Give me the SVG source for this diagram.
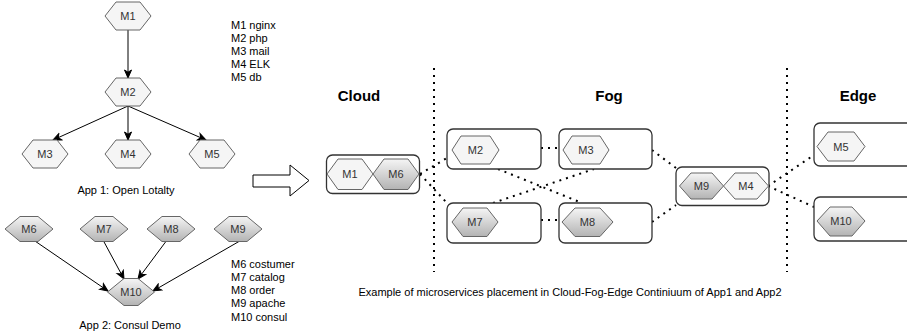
<svg xmlns="http://www.w3.org/2000/svg" width="907" height="332" viewBox="0 0 907 332">
<defs>
<linearGradient id="g" x1="0" y1="0" x2="0" y2="1">
<stop offset="0" stop-color="#f5f5f5"/>
<stop offset="1" stop-color="#b3b3b3"/>
</linearGradient>
<marker id="arr" markerUnits="userSpaceOnUse" markerWidth="10" markerHeight="10" viewBox="0 0 10 10" refX="9" refY="5" orient="auto">
<path d="M1,1.5 L9,5 L1,8.5 L3.2,5 z" fill="#000" stroke="#000" stroke-width="1"/>
</marker>
</defs>
<style>
.hl{fill:#f5f5f5;stroke:#666;stroke-width:1}
.hd{fill:url(#g);stroke:#666;stroke-width:1}
.lb{font-family:"Liberation Sans",Arial,sans-serif;font-size:11px;fill:#333;text-anchor:middle}
.tx{font-family:"Liberation Sans",Arial,sans-serif;font-size:11px;fill:#000}
.cap{font-family:"Liberation Sans",Arial,sans-serif;font-size:11px;fill:#000;text-anchor:middle}
.hd1{font-family:"Liberation Sans",Arial,sans-serif;font-size:15px;font-weight:bold;fill:#000;text-anchor:middle}
.box{fill:#fff;stroke:#333;stroke-width:1.3}
.e{stroke:#000;stroke-width:1;fill:none;marker-end:url(#arr)}
.d{stroke:#000;stroke-width:2;fill:none;stroke-dasharray:2 5}
</style>

<!-- App 1 -->
<g id="app1-edges">
<line class="e" x1="128" y1="30" x2="128" y2="78"/>
<line class="e" x1="128" y1="106" x2="53" y2="140"/>
<line class="e" x1="128" y1="106" x2="128" y2="140"/>
<line class="e" x1="128" y1="106" x2="206" y2="140"/>
</g>
<g id="a1-M1"><polygon class="hl" points="105,16 116,2 140,2 151,16 140,30 116,30"/><text class="lb" x="128" y="20">M1</text></g>
<g id="a1-M2"><polygon class="hl" points="105,92 116,78 140,78 151,92 140,106 116,106"/><text class="lb" x="128" y="96">M2</text></g>
<g id="a1-M3"><polygon class="hl" points="22,154 33,140 57,140 68,154 57,168 33,168"/><text class="lb" x="45" y="158">M3</text></g>
<g id="a1-M4"><polygon class="hl" points="105,154 116,140 140,140 151,154 140,168 116,168"/><text class="lb" x="128" y="158">M4</text></g>
<g id="a1-M5"><polygon class="hl" points="189,154 200,140 224,140 235,154 224,168 200,168"/><text class="lb" x="212" y="158">M5</text></g>
<g id="legend1">
<text class="tx" x="231" y="29">M1 nginx</text>
<text class="tx" x="231" y="42">M2 php</text>
<text class="tx" x="231" y="55">M3 mail</text>
<text class="tx" x="231" y="68">M4 ELK</text>
<text class="tx" x="231" y="81">M5 db</text>
</g>
<text class="cap" x="126" y="194">App 1: Open Lotalty</text>

<!-- App 2 -->
<g id="app2-edges">
<line class="e" x1="32" y1="239" x2="108" y2="291"/>
<line class="e" x1="103" y1="240" x2="124" y2="279"/>
<line class="e" x1="167" y1="240" x2="138" y2="279"/>
<line class="e" x1="245" y1="238" x2="153" y2="291"/>
</g>
<g id="a2-M6"><polygon class="hd" points="5,229 20,216.5 38,216.5 53,229 38,241.5 20,241.5"/><text class="lb" x="29" y="233">M6</text></g>
<g id="a2-M7"><polygon class="hd" points="80,229 95,216.5 113,216.5 128,229 113,241.5 95,241.5"/><text class="lb" x="104" y="233">M7</text></g>
<g id="a2-M8"><polygon class="hd" points="147,229 162,216.5 180,216.5 195,229 180,241.5 162,241.5"/><text class="lb" x="171" y="233">M8</text></g>
<g id="a2-M9"><polygon class="hd" points="214,229 229,216.5 247,216.5 262,229 247,241.5 229,241.5"/><text class="lb" x="238" y="233">M9</text></g>
<g id="a2-M10"><polygon class="hd" points="107.5,292 124,278.5 138,278.5 154.5,292 138,305.5 124,305.5"/><text class="lb" x="131" y="296">M10</text></g>
<g id="legend2">
<text class="tx" x="231" y="268">M6 costumer</text>
<text class="tx" x="231" y="281">M7 catalog</text>
<text class="tx" x="231" y="294">M8 order</text>
<text class="tx" x="231" y="307">M9 apache</text>
<text class="tx" x="231" y="321">M10 consul</text>
</g>
<text class="cap" x="130" y="329">App 2: Consul Demo</text>

<!-- Hollow arrow -->
<polygon id="big-arrow" points="253,175 290,175 290,165 309,180.5 290,196 290,187 253,187" fill="#fff" stroke="#000" stroke-width="1"/>

<!-- Placement -->
<text class="hd1" x="359" y="101">Cloud</text>
<text class="hd1" x="609" y="101">Fog</text>
<text class="hd1" x="858" y="101">Edge</text>
<line class="d" x1="434" y1="68" x2="434" y2="272" stroke-width="1.8" stroke-dasharray="1.8 4.8"/>
<line class="d" x1="787" y1="68" x2="787" y2="272" stroke-width="1.8" stroke-dasharray="1.8 4.8"/>

<g id="connectors">
<line class="d" x1="420" y1="174" x2="447" y2="158"/>
<line class="d" x1="420" y1="174" x2="447" y2="203"/>
<line class="d" x1="541" y1="148" x2="562" y2="148"/>
<line class="d" x1="541" y1="220" x2="562" y2="220"/>
<line class="d" x1="498" y1="169" x2="582" y2="203"/>
<line class="d" x1="493" y1="203" x2="594" y2="169"/>
<line class="d" x1="652" y1="150" x2="676" y2="168"/>
<line class="d" x1="652" y1="222" x2="676" y2="205"/>
<line class="d" x1="768" y1="186" x2="814" y2="155"/>
<line class="d" x1="768" y1="186" x2="814" y2="207"/>
</g>

<g id="cloud-node">
<rect class="box" x="326.5" y="155" width="93" height="38.5" rx="6"/>
<polygon class="hl" points="327,174 338,159 362,159 373,174 362,189.5 338,189.5"/>
<text class="lb" x="350" y="178">M1</text>
<polygon class="hd" points="373,174 384,159 408,159 419,174 408,189.5 384,189.5"/>
<text class="lb" x="396" y="178">M6</text>
</g>
<g id="fog-M2">
<rect class="box" x="447" y="129" width="94" height="40" rx="6"/>
<polygon class="hl" points="452,150 461,136 490,136 499,150 490,164 461,164"/>
<text class="lb" x="475.5" y="154">M2</text>
</g>
<g id="fog-M3">
<rect class="box" x="559" y="129" width="93" height="40" rx="6"/>
<polygon class="hl" points="563,150 572,136 600,136 609,150 600,164 572,164"/>
<text class="lb" x="586" y="154">M3</text>
</g>
<g id="fog-M7">
<rect class="box" x="447" y="203" width="94" height="40" rx="6"/>
<polygon class="hd" points="452,222 463,208 487,208 498,222 487,236.5 463,236.5"/>
<text class="lb" x="475" y="226">M7</text>
</g>
<g id="fog-M8">
<rect class="box" x="559" y="203" width="93" height="40" rx="6"/>
<polygon class="hd" points="562,222 575,208 600,208 613,222 600,236.5 575,236.5"/>
<text class="lb" x="587.5" y="226">M8</text>
</g>
<g id="fog-M9-M4">
<rect class="box" x="676" y="167" width="93" height="38.5" rx="6"/>
<polygon class="hd" points="679.5,186 691,173 712,173 723.5,186 712,199 691,199"/>
<text class="lb" x="701.5" y="190">M9</text>
<polygon class="hl" points="723.5,186 735,173 757,173 768.5,186 757,199 735,199"/>
<text class="lb" x="746" y="190">M4</text>
</g>
<g id="edge-M5">
<rect class="box" x="814" y="123" width="100" height="43" rx="6"/>
<polygon class="hl" points="817,146.5 828,132 854,132 865,146.5 854,161 828,161"/>
<text class="lb" x="841" y="150.5">M5</text>
</g>
<g id="edge-M10">
<rect class="box" x="814" y="197" width="100" height="44" rx="6"/>
<polygon class="hd" points="817,221 830,207 852,207 865,221 852,236 830,236"/>
<text class="lb" x="841" y="225">M10</text>
</g>
<text class="cap" x="570" y="296" font-size="12">Example of microservices placement in Cloud-Fog-Edge Continiuum of App1 and App2</text>
</svg>
